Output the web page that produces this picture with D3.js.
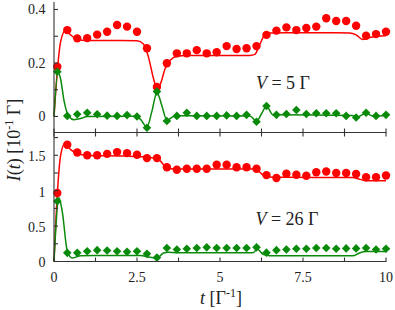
<!DOCTYPE html>
<html>
<head>
<meta charset="utf-8">
<script src="https://cdn.jsdelivr.net/npm/d3@7"></script>
<style>
  html, body { margin: 0; padding: 0; background: #fff; }
  svg { display: block; }
</style>
</head>
<body>
<svg id="chart" width="395" height="310"></svg>
<script>
// ---------- data ----------
const tObs = [0.1,0.4,0.7,1.0,1.3,1.6,1.9,2.2,2.5,2.8,3.1,3.4,3.7,4.0,4.3,4.6,4.9,5.2,5.5,5.8,
              6.1,6.4,6.7,7.0,7.3,7.6,7.9,8.2,8.5,8.8,9.1,9.4,9.7,10.0];

// V = 5 Γ panel (markers)
const red5 = [0.186,0.323,0.292,0.293,0.306,0.317,0.342,0.336,0.317,0.255,0.110,0.199,0.236,0.236,0.248,0.236,0.240,0.263,0.252,0.255,
              0.263,0.305,0.321,0.333,0.323,0.331,0.336,0.367,0.357,0.357,0.339,0.302,0.308,0.317];
const green5 = [0.167,0.002,0.008,0.014,0.008,0.003,0.002,0.005,0.000,-0.042,0.093,-0.017,0.002,0.014,0.002,0.002,0.002,0.004,0.002,0.006,
                -0.020,0.039,0.006,0.009,0.024,0.009,0.012,0.012,0.012,0.002,-0.004,0.014,0.002,0.006];
// V = 5 Γ panel (curves)
const tRed5Line = [0,0.1,0.2,0.35,0.5,0.7,1.0,2.0,2.5,2.7,2.85,3.0,3.1,3.2,3.35,3.5,3.7,4.0,5.0,5.9,6.05,6.2,6.35,6.5,7.0,8.5,8.9,9.1,9.3,9.5,9.7,10];
const red5Line  = [0,0.17,0.28,0.322,0.305,0.288,0.284,0.284,0.283,0.27,0.22,0.14,0.105,0.12,0.18,0.21,0.225,0.228,0.228,0.228,0.232,0.27,0.305,0.312,0.313,0.313,0.312,0.305,0.288,0.295,0.300,0.302];
const tGreen5Line = [0,0.12,0.2,0.3,0.45,0.6,0.8,1.0,2.4,2.6,2.8,2.95,3.1,3.25,3.4,3.6,3.8,5.9,6.1,6.25,6.4,6.6,9.0,9.1,9.4,9.6,10];
const green5Line  = [0,0.165,0.14,0.06,0.0,-0.012,-0.008,0.0,0.001,-0.01,-0.04,0.02,0.09,0.04,-0.015,0.0,0.003,0.002,-0.018,0.01,0.038,0.006,0.004,-0.004,0.012,0.002,0.004];

// V = 26 Γ panel (markers)
const red26 = [0.967,1.648,1.540,1.500,1.500,1.520,1.545,1.530,1.507,1.460,1.460,1.330,1.296,1.310,1.310,1.310,1.366,1.366,1.330,1.330,
               1.310,1.220,1.180,1.240,1.225,1.210,1.260,1.270,1.250,1.250,1.235,1.190,1.190,1.215];
const green26 = [0.850,0.122,0.122,0.145,0.160,0.155,0.145,0.136,0.145,0.108,0.055,0.190,0.170,0.180,0.190,0.200,0.190,0.190,0.190,0.190,
                 0.200,0.125,0.160,0.170,0.180,0.180,0.190,0.190,0.180,0.185,0.185,0.190,0.170,0.180];
// V = 26 Γ panel (curves)
const tRed26Line = [0,0.1,0.2,0.33,0.5,0.8,1.2,2.0,2.6,3.0,3.2,3.35,3.5,3.8,6.0,6.15,6.3,6.45,7.0,9.0,9.15,9.35,9.6,10];
const red26Line  = [0,0.95,1.5,1.665,1.58,1.51,1.495,1.49,1.48,1.46,1.42,1.34,1.31,1.305,1.305,1.28,1.22,1.195,1.19,1.185,1.17,1.145,1.14,1.14];
const tGreen26Line = [0,0.15,0.25,0.4,0.55,0.8,1.2,2.6,2.9,3.1,3.3,3.45,3.7,6.0,6.12,6.3,6.5,9.0,9.2,9.4,10];
const green26Line  = [0,0.9,0.7,0.15,0.05,0.08,0.085,0.085,0.06,0.05,0.12,0.13,0.125,0.125,0.175,0.1,0.08,0.08,0.12,0.14,0.14];

// ticks / labels
const xTicks = [0,1.25,2.5,3.75,5,6.25,7.5,8.75,10];
const xTickLabels = ["0","2.5","5","7.5","10"];
const yTicks5 = [0,0.1,0.2,0.3,0.4];
const yTickLabels5 = ["0","0.2","0.4"];
const yTicks26 = [0,0.25,0.5,0.75,1,1.25,1.5,1.75];
const yTickLabels26 = ["0","0.5","1","1.5"];

// ---------- layout ----------
const svg = d3.select("#chart");
const X0 = 54, X1 = 386;
const RED = "#ff0000", GREEN = "#0a8a0a", AX = "#333", TXT = "#222";
const FONT = "Liberation Serif";

const x = d3.scaleLinear().domain([0,10]).range([X0, X1]);
const yTop = d3.scaleLinear().domain([-0.06, 0.428]).range([132.5, 2]);
const yBot = d3.scaleLinear().domain([0, 1.84]).range([261.5, 131.2]);

const diamond = "M0,-4.3L4.3,0L0,4.3L-4.3,0Z";

function drawPanel(y, tR, rL, tG, gL, rPts, gPts) {
  const g = svg.append("g");
  const line = d3.line().curve(d3.curveMonotoneX);
  g.append("path")
    .attr("d", line(tR.map((t,i)=>[x(t), y(rL[i])])))
    .attr("fill","none").attr("stroke",RED).attr("stroke-width",1.5);
  g.append("path")
    .attr("d", line(tG.map((t,i)=>[x(t), y(gL[i])])))
    .attr("fill","none").attr("stroke",GREEN).attr("stroke-width",1.5);
  g.selectAll("circle.r").data(tObs).join("circle")
    .attr("cx", t=>x(t)).attr("cy",(t,i)=>y(rPts[i])).attr("r",4.2).attr("fill",RED);
  g.selectAll("path.d").data(tObs).join("path")
    .attr("class","d")
    .attr("transform",(t,i)=>`translate(${x(t)},${y(gPts[i])})`)
    .attr("d", diamond).attr("fill",GREEN);
}

drawPanel(yTop, tRed5Line, red5Line, tGreen5Line, green5Line, red5, green5);
drawPanel(yBot, tRed26Line, red26Line, tGreen26Line, green26Line, red26, green26);

// ---------- axes ----------
const ax = svg.append("g").attr("stroke", AX).attr("stroke-width", 1.1);
ax.append("line").attr("x1",X0).attr("x2",X0).attr("y1",2).attr("y2",261.5);
ax.append("line").attr("x1",X0).attr("x2",X1+0.5).attr("y1",132.5).attr("y2",132.5);
ax.append("line").attr("x1",X0).attr("x2",X1+0.5).attr("y1",261.5).attr("y2",261.5);

xTicks.forEach(t => {
  ax.append("line").attr("x1",x(t)).attr("x2",x(t)).attr("y1",132.5).attr("y2",128.5);
  ax.append("line").attr("x1",x(t)).attr("x2",x(t)).attr("y1",132.5).attr("y2",136.5);
  ax.append("line").attr("x1",x(t)).attr("x2",x(t)).attr("y1",261.5).attr("y2",257.5);
});
yTicks5.forEach(v => ax.append("line").attr("x1",X0).attr("x2",X0+4).attr("y1",yTop(v)).attr("y2",yTop(v)));
yTicks26.forEach(v => ax.append("line").attr("x1",X0).attr("x2",X0+4).attr("y1",yBot(v)).attr("y2",yBot(v)));

// tick labels
const FS = 14;
function txt(xp, yp, anchor, size) {
  return svg.append("text").attr("x",xp).attr("y",yp).attr("text-anchor",anchor)
    .attr("font-size",size).attr("font-family",FONT).attr("fill",TXT);
}
yTickLabels5.forEach(s => txt(45.5, yTop(+s), "end", FS).attr("dy","0.35em").text(s));
yTickLabels26.forEach(s => txt(45.5, yBot(+s)+1, "end", FS).attr("dy","0.35em").text(s));
xTickLabels.forEach(s => txt(x(+s), 281.5, "middle", FS).text(s));

// x axis title
const xt = txt(221, 304, "middle", 18);
xt.append("tspan").attr("font-style","italic").text("t");
xt.append("tspan").text(" [Γ");
xt.append("tspan").attr("font-size",12).attr("dy",-7).text("-1");
xt.append("tspan").attr("dy",7).text("]");

// y axis title
const yt = svg.append("text").attr("transform","translate(20,140) rotate(-90)")
  .attr("text-anchor","middle").attr("font-size",18).attr("font-family",FONT).attr("fill",TXT);
yt.append("tspan").attr("font-style","italic").text("I");
yt.append("tspan").text("(");
yt.append("tspan").attr("font-style","italic").text("t");
yt.append("tspan").text(") [10");
yt.append("tspan").attr("font-size",12).attr("dy",-7).text("-1");
yt.append("tspan").attr("dy",7).text(" Γ]");

// panel annotations
function vlabel(cx, by, num) {
  const t = txt(cx, by, "middle", 18);
  t.append("tspan").attr("font-style","italic").text("V");
  t.append("tspan").text(" = " + num + " Γ");
}
vlabel(283, 88.5, "5");
vlabel(287, 225, "26");
</script>
</body>
</html>
